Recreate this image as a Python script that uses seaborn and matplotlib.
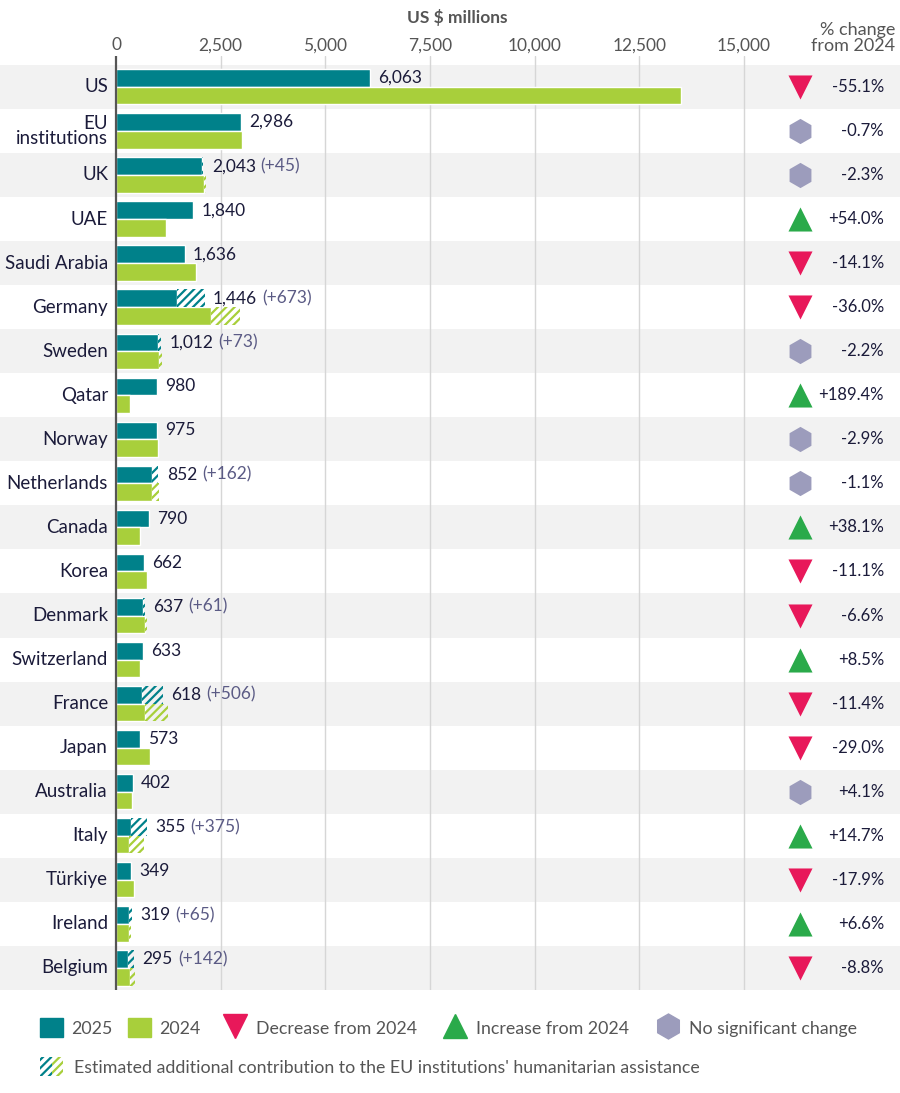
import matplotlib
matplotlib.use("Agg")
import matplotlib.pyplot as plt
import seaborn as sns
import pandas as pd
from matplotlib.patches import Patch
from matplotlib.lines import Line2D
from matplotlib.legend_handler import HandlerTuple

# ---- data (US $ millions) ----
countries = ["US", "EU\ninstitutions", "UK", "UAE", "Saudi Arabia", "Germany", "Sweden",
             "Qatar", "Norway", "Netherlands", "Canada", "Korea", "Denmark", "Switzerland",
             "France", "Japan", "Australia", "Italy", "Türkiye", "Ireland", "Belgium"]
val_2025 = [6063, 2986, 2043, 1840, 1636, 1446, 1012, 980, 975, 852, 790, 662, 637, 633,
            618, 573, 402, 355, 349, 319, 295]
val_2024 = [13503, 3007, 2091, 1195, 1905, 2259, 1035, 339, 1004, 861, 572, 745, 682, 583,
            698, 807, 386, 310, 425, 299, 323]
extra_2025 = [0, 0, 45, 0, 0, 673, 73, 0, 0, 162, 0, 0, 61, 0, 506, 0, 0, 375, 0, 65, 142]
extra_2024 = [0, 0, 50, 0, 0, 700, 75, 0, 0, 170, 0, 0, 65, 0, 540, 0, 0, 360, 0, 65, 140]
pct_change = ["-55.1%", "-0.7%", "-2.3%", "+54.0%", "-14.1%", "-36.0%", "-2.2%", "+189.4%",
              "-2.9%", "-1.1%", "+38.1%", "-11.1%", "-6.6%", "+8.5%", "-11.4%", "-29.0%",
              "+4.1%", "+14.7%", "-17.9%", "+6.6%", "-8.8%"]
status = ["down", "same", "same", "up", "down", "down", "same", "up", "same", "same", "up",
          "down", "down", "up", "down", "down", "same", "up", "down", "up", "down"]
xticks = [0, 2500, 5000, 7500, 10000, 12500, 15000]

TEAL, LIME = "#00818a", "#a8cf3b"
NAVY, GREY, PAREN = "#1b1b3a", "#555555", "#5b5b85"
MARK = {"down": ("v", "#e8185a", 300), "up": ("^", "#2aaa4a", 300), "same": ("h", "#9c9cbc", 330)}

sns.set_style("white")
plt.rcParams["font.family"] = ["Lato", "DejaVu Sans"]
plt.rcParams["hatch.linewidth"] = 1.6

df = pd.DataFrame({"country": countries * 2,
                   "year": ["2025"] * len(countries) + ["2024"] * len(countries),
                   "value": val_2025 + val_2024})

fig = plt.figure(figsize=(9, 10.93), dpi=100)
ax = fig.add_axes([0, 1 - 990 / 1093, 1, 934 / 1093])

# alternating row bands
for i in range(0, len(countries), 2):
    ax.axhspan(i - 0.5, i + 0.5, color="#f2f2f2", lw=0, zorder=0)
for t in xticks[1:]:
    ax.axvline(t, color="#d6d6d6", lw=1, zorder=0.6)
ax.axvline(0, color=GREY, lw=1.6, zorder=3)

sns.barplot(data=df, y="country", x="value", hue="year", hue_order=["2025", "2024"],
            palette=[TEAL, LIME], saturation=1, orient="h", width=0.8, edgecolor="white",
            linewidth=1, legend=False, ax=ax)

# hatched estimated extra contributions
for cont, extras, col in [(ax.containers[0], extra_2025, TEAL), (ax.containers[1], extra_2024, LIME)]:
    for p, ex in zip(cont.patches, extras):
        if ex > 0:
            ax.barh(p.get_y() + p.get_height() / 2, ex, left=p.get_width(), height=p.get_height(),
                    facecolor="none", edgecolor=col, hatch="////", lw=0, zorder=2)

# value labels on the 2025 bars
for p, v, ex in zip(ax.containers[0].patches, val_2025, extra_2025):
    y = p.get_y() + p.get_height() / 2
    t = ax.annotate(f"{v:,}", xy=(v + ex, y), xytext=(6, 0), textcoords="offset points",
                    va="center", ha="left", fontsize=12.5, color=NAVY)
    if ex > 0:
        ax.annotate(f"(+{ex})", xy=(1, 0.5), xycoords=t, xytext=(3.5, 0),
                    textcoords="offset points", va="center", ha="left", fontsize=12.5, color=PAREN)

# country names and % change column
yt = ax.get_yaxis_transform()
for i, (c, pc, s) in enumerate(zip(countries, pct_change, status)):
    ax.text(-190, i, c, ha="right", va="center", fontsize=13.5, color=NAVY, linespacing=0.9)
    m, col, sz = MARK[s]
    ax.scatter([800 / 900], [i], marker=m, s=sz, color=col, lw=0, transform=yt, zorder=4,
               clip_on=False)
    ax.text(884 / 900, i, pc, transform=yt, ha="right", va="center", fontsize=12, color=NAVY)

ax.set_xlim(-2771, 18726)
ax.set_ylim(len(countries) - 0.5, -0.70)
ax.set_yticks([])
ax.set_ylabel("")
ax.set_xlabel("")
ax.xaxis.tick_top()
ax.set_xticks(xticks)
ax.set_xticklabels([f"{t:,}" for t in xticks])
ax.tick_params(axis="x", length=0, pad=2, labelsize=12.5, labelcolor=GREY)
for sp in ax.spines.values():
    sp.set_visible(False)

fig.text(457 / 900, 1 - 18 / 1093, "US $ millions", ha="center", va="center",
         fontsize=12.5, fontweight="bold", color=GREY)
fig.text(895 / 900, 1 - 38 / 1093, "% change\nfrom 2024", ha="right", va="center",
         fontsize=13, color=GREY, linespacing=1.0)

# legend: year swatches, change markers, hatch note
leg_kw = dict(loc="upper left", frameon=False, fontsize=12.8, labelcolor=GREY, handlelength=1.3,
              handleheight=1.3, borderpad=0, borderaxespad=0)
fig.legend([Patch(color=TEAL), Patch(color=LIME)], ["2025", "2024"], ncol=2,
           bbox_to_anchor=(40 / 900, 1 - 1018 / 1093), handletextpad=0.45, columnspacing=0.85,
           **leg_kw)
h1 = [Line2D([], [], ls="", marker="v", color=MARK["down"][1], markersize=17),
      Line2D([], [], ls="", marker="^", color=MARK["up"][1], markersize=17),
      Line2D([], [], ls="", marker="h", color=MARK["same"][1], markersize=18)]
fig.legend(h1, ["Decrease from 2024", "Increase from 2024", "No significant change"], ncol=3,
           bbox_to_anchor=(223 / 900, 1 - 1018 / 1093), handletextpad=0.55, columnspacing=1.5,
           **leg_kw)
h2 = [(Patch(facecolor="none", edgecolor=TEAL, hatch="////", lw=0),
       Patch(facecolor="none", edgecolor=LIME, hatch="////", lw=0))]
fig.legend(h2, ["Estimated additional contribution to the EU institutions' humanitarian assistance"],
           handler_map={tuple: HandlerTuple(ndivide=None, pad=0)},
           bbox_to_anchor=(40 / 900, 1 - 1057 / 1093), handletextpad=0.6, **leg_kw)

fig.savefig("out.png", dpi=100)
